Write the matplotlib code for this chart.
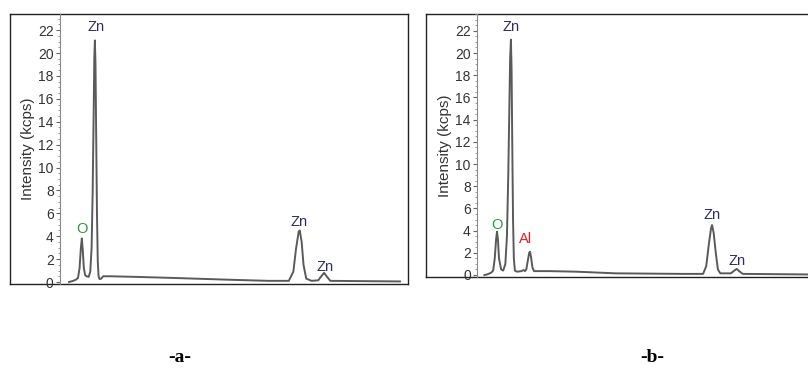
import matplotlib.pyplot as plt
from matplotlib.ticker import MultipleLocator

# EDS spectra, energy (keV) vs intensity (kcps)
energy_a = [0.05, 0.2, 0.3, 0.38, 0.44, 0.49, 0.525, 0.56, 0.6, 0.65, 0.7, 0.78,
            0.84, 0.89, 0.93, 0.965, 0.99, 1.012, 1.035, 1.06, 1.09, 1.12, 1.15,
            1.19, 1.25, 1.32, 1.6, 2.5, 4.0, 6.0, 7.5, 8.25, 8.42, 8.52, 8.62,
            8.66, 8.73, 8.8, 8.9, 9.1, 9.35, 9.48, 9.57, 9.66, 9.8, 12.4]
counts_a = [0.0, 0.1, 0.2, 0.35, 1.2, 3.0, 3.8, 2.8, 1.2, 0.6, 0.5, 0.45,
            0.9, 3.0, 8.0, 14.5, 19.5, 21.1, 19.0, 13.0, 6.0, 1.8, 0.5,
            0.25, 0.3, 0.5, 0.5, 0.45, 0.35, 0.2, 0.1, 0.1, 0.9, 2.9, 4.4,
            4.5, 3.5, 1.5, 0.3, 0.1, 0.15, 0.55, 0.8, 0.5, 0.1, 0.05]

energy_b = [0.05, 0.15, 0.3, 0.38, 0.44, 0.49, 0.525, 0.56, 0.6, 0.68, 0.76, 0.84,
            0.9, 0.95, 0.99, 1.02, 1.05, 1.075, 1.1, 1.13, 1.16, 1.2, 1.28,
            1.45, 1.52, 1.58, 1.63, 1.68, 1.74, 1.77, 1.81, 1.86, 1.92, 2.5,
            3.5, 5.0, 7.5, 8.3, 8.42, 8.52, 8.6, 8.64, 8.7, 8.78, 8.86, 8.95,
            9.35, 9.48, 9.57, 9.66, 9.8, 12.3]
counts_b = [0.0, 0.05, 0.2, 0.4, 1.5, 3.2, 3.9, 3.2, 1.5, 0.5, 0.4, 1.0,
            3.5, 9.0, 15.0, 19.5, 21.2, 18.5, 12.0, 5.0, 1.5, 0.4, 0.3,
            0.35, 0.45, 0.35, 0.5, 1.2, 2.0, 2.1, 1.6, 0.7, 0.35, 0.35,
            0.3, 0.15, 0.1, 0.1, 0.8, 2.8, 4.2, 4.5, 3.8, 2.0, 0.5, 0.15,
            0.15, 0.4, 0.55, 0.35, 0.1, 0.05]

# peak labels: text, energy, height, colour
labels_a = [("O", 0.525, 4.6, "#2a9a3a"), ("Zn", 1.05, 22.3, "#2e2a6e"),
            ("Zn", 8.63, 5.2, "#2e2a6e"), ("Zn", 9.6, 1.3, "#2e2a6e")]
labels_b = [("O", 0.525, 4.5, "#2a9a3a"), ("Zn", 1.07, 22.3, "#2e2a6e"),
            ("Al", 1.6, 3.2, "#e02020"), ("Zn", 8.65, 5.4, "#2e2a6e"),
            ("Zn", 9.6, 1.3, "#2e2a6e")]

plt.rcParams['font.family'] = ['Liberation Sans', 'DejaVu Sans']

fig = plt.figure(figsize=(8.08, 3.69), dpi=100)
W, H = 808.0, 369.0


def frame(x0, y0, x1, y1, right=True):
    f = fig.add_axes([x0 / W, 1 - y1 / H, (x1 - x0) / W, (y1 - y0) / H])
    f.set_xticks([])
    f.set_yticks([])
    for s in f.spines.values():
        s.set_linewidth(1.0)
        s.set_color('#222222')
    f.spines['right'].set_visible(right)
    return f


def spectrum(x0, x1, ytop, ybot, zero_px, px_per_unit, xlim, e, c, labels):
    ax = fig.add_axes([x0 / W, 1 - ybot / H, (x1 - x0) / W, (ybot - ytop) / H])
    ax.patch.set_alpha(0)
    ax.plot(e, c, color='#5a5a5a', lw=1.4)
    ax.set_xlim(*xlim)
    ax.set_ylim((zero_px - ybot) / px_per_unit, (zero_px - ytop) / px_per_unit)
    for s in ['top', 'right', 'bottom']:
        ax.spines[s].set_visible(False)
    ax.spines['left'].set_color('#888888')
    ax.spines['left'].set_linewidth(0.8)
    ax.set_xticks([])
    ax.set_yticks(range(0, 23, 2))
    ax.yaxis.set_minor_locator(MultipleLocator(0.5))
    ax.tick_params(axis='y', which='major', length=3, width=0.8, color='#666666',
                   labelsize=10, pad=1.5, labelcolor='#333333')
    ax.tick_params(axis='y', which='minor', length=1.5, width=0.6, color='#888888')
    ax.set_ylabel('Intensity (kcps)', fontsize=11, color='#333333', labelpad=2)
    for txt, xe, yv, col in labels:
        ax.text(xe, yv, txt, color=col, fontsize=10.5, ha='center', va='center')
    return ax


frame(10, 14, 408, 284)
spectrum(60, 408, 14, 284, 282, 11.45, (-0.29, 12.7), energy_a, counts_a, labels_a)

frame(426, 14, 812, 277, right=False)
spectrum(477, 808, 14, 277, 275, 11.1, (-0.23, 12.26), energy_b, counts_b, labels_b)

fig.text(180 / W, 1 - 357 / H, '-a-', family='Liberation Serif', weight='bold',
         fontsize=14, ha='center', va='center')
fig.text(652 / W, 1 - 357 / H, '-b-', family='Liberation Serif', weight='bold',
         fontsize=14, ha='center', va='center')

fig.savefig('out.png', dpi=100)
